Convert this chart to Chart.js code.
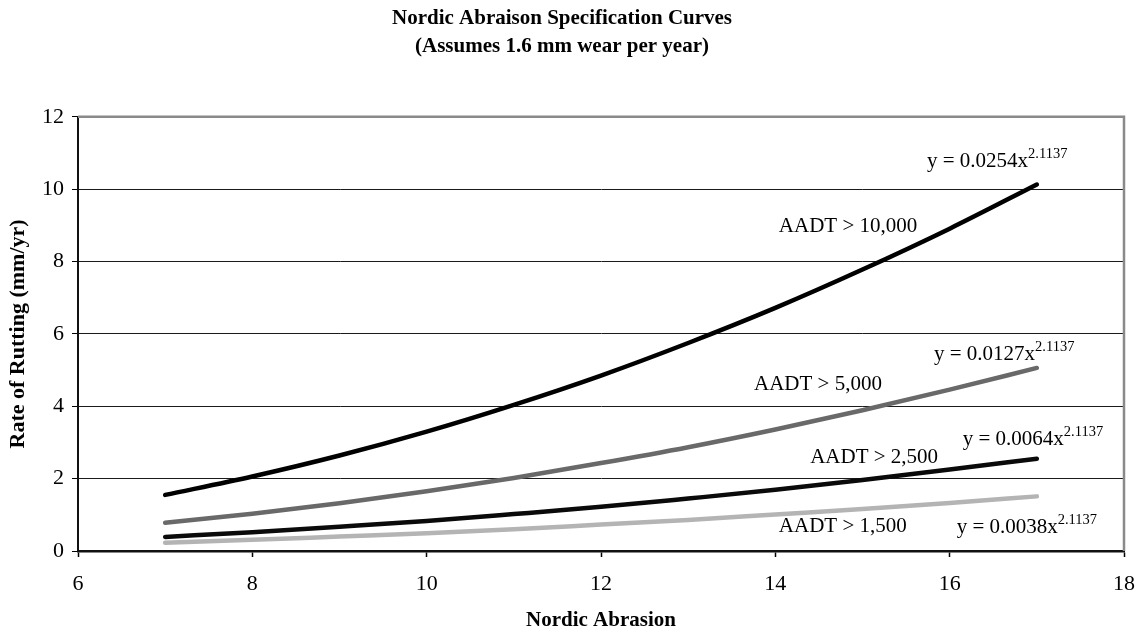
<!DOCTYPE html>
<html>
<head>
<meta charset="utf-8">
<script src="https://cdn.jsdelivr.net/npm/chart.js@4.4.0/dist/chart.umd.min.js"></script>
<style>
html,body{margin:0;padding:0;background:#fff;}
#wrap{width:1143px;height:635px;position:relative;}
</style>
</head>
<body>
<div id="wrap"><canvas id="c" width="1143" height="635"></canvas></div>
<script>
// ---- data ----
const abrasion = [7, 8, 9, 10, 11, 12, 13, 14, 15, 16, 17];
const aadt10000 = [1.55, 2.06, 2.64, 3.30, 4.04, 4.85, 5.75, 6.72, 7.78, 8.91, 10.13];
const aadt5000  = [0.78, 1.03, 1.32, 1.65, 2.02, 2.43, 2.87, 3.36, 3.89, 4.46, 5.06];
const aadt2500  = [0.39, 0.52, 0.67, 0.83, 1.02, 1.22, 1.45, 1.69, 1.96, 2.25, 2.55];
const aadt1500  = [0.23, 0.31, 0.40, 0.49, 0.60, 0.73, 0.86, 1.01, 1.16, 1.33, 1.51];
const seriesNames = ['AADT > 10,000', 'AADT > 5,000', 'AADT > 2,500', 'AADT > 1,500'];
const equations = ['y = 0.0254x', 'y = 0.0127x', 'y = 0.0064x', 'y = 0.0038x'];
const exponent = '2.1137';
const xTicks = [6, 8, 10, 12, 14, 16, 18];
const yTicks = [0, 2, 4, 6, 8, 10, 12];
const titleLines = ['Nordic Abraison Specification Curves', '(Assumes 1.6 mm wear per year)'];
const xTitle = 'Nordic Abrasion';
const yTitle = 'Rate of Rutting (mm/yr)';

// label anchors (data coordinates: left edge, baseline)
const nameAnchors = [[14.04, 8.82], [13.755, 4.45], [14.40, 2.43], [14.04, 0.525]];
const eqAnchors = [[15.74, 10.62], [15.82, 5.28], [16.15, 2.93], [16.08, 0.50]];

const FONT = '"Liberation Serif", "Times New Roman", serif';
const colors = ['#000000', '#696969', '#0a0a0a', '#b4b4b4'];
const allSeries = [aadt10000, aadt5000, aadt2500, aadt1500];

const datasets = allSeries.map((vals, i) => ({
  label: seriesNames[i],
  data: abrasion.map((x, j) => ({x: x, y: vals[j]})),
  borderColor: colors[i],
  backgroundColor: colors[i],
  borderWidth: 4.5,
  borderCapStyle: 'round',
  borderJoinStyle: 'round',
  pointRadius: 0,
  cubicInterpolationMode: 'monotone',
  fill: false
}));

const framePlugin = {
  id: 'frame',
  afterDatasetsDraw(chart) {
    const {ctx, chartArea: a} = chart;
    ctx.save();
    ctx.strokeStyle = '#8a8a8a';
    ctx.lineWidth = 2.5;
    ctx.beginPath();
    ctx.moveTo(a.left, a.top);
    ctx.lineTo(a.right, a.top);
    ctx.lineTo(a.right, a.bottom);
    ctx.stroke();
    ctx.restore();
  }
};

const labelPlugin = {
  id: 'labels',
  afterDatasetsDraw(chart) {
    const {ctx} = chart;
    const xs = chart.scales.x, ys = chart.scales.y;
    ctx.save();
    ctx.fillStyle = '#000';
    ctx.textBaseline = 'alphabetic';
    ctx.textAlign = 'left';
    nameAnchors.forEach((p, i) => {
      ctx.font = '21px ' + FONT;
      ctx.fillText(seriesNames[i], xs.getPixelForValue(p[0]), ys.getPixelForValue(p[1]));
    });
    eqAnchors.forEach((p, i) => {
      const px = xs.getPixelForValue(p[0]), py = ys.getPixelForValue(p[1]);
      ctx.font = '21px ' + FONT;
      ctx.fillText(equations[i], px, py);
      const w = ctx.measureText(equations[i]).width;
      ctx.font = '14.5px ' + FONT;
      ctx.fillText(exponent, px + w, py - 9);
    });
    ctx.restore();
  }
};

new Chart(document.getElementById('c'), {
  type: 'line',
  data: {datasets: datasets},
  plugins: [framePlugin, labelPlugin],
  options: {
    responsive: false,
    animation: false,
    layout: {padding: {left: 0, right: 19, top: 0, bottom: 0}},
    plugins: {
      legend: {display: false},
      tooltip: {enabled: false},
      title: {
        display: true,
        text: titleLines,
        color: '#000',
        font: {family: FONT, size: 21, weight: 'bold', lineHeight: 1.33},
        padding: {top: 5, bottom: 56}
      }
    },
    scales: {
      x: {
        type: 'linear',
        min: 6, max: 18,
        afterFit(s) { s.height = 84; s.paddingLeft = 0; s.paddingRight = 0; },
        afterBuildTicks(s) { s.ticks = xTicks.map(v => ({value: v})); },
        ticks: {color: '#000', font: {family: FONT, size: 22}, padding: 14, maxRotation: 0},
        grid: {drawOnChartArea: false, drawTicks: true, tickLength: 6, tickColor: '#000', tickWidth: 1.5},
        border: {display: true, color: '#111', width: 2.5},
        title: {display: true, text: xTitle, color: '#000', font: {family: FONT, size: 21, weight: 'bold', lineHeight: 1.2}, padding: {top: 0, bottom: 2}}
      },
      y: {
        min: 0, max: 12,
        afterFit(s) { s.width = 78; },
        afterBuildTicks(s) { s.ticks = yTicks.map(v => ({value: v})); },
        ticks: {color: '#000', font: {family: FONT, size: 22}, padding: 8},
        grid: {drawOnChartArea: true, drawTicks: true, tickLength: 6, color: '#1a1a1a', lineWidth: 1, tickColor: '#000'},
        border: {display: true, color: '#111', width: 2},
        title: {display: true, text: yTitle, color: '#000', font: {family: FONT, size: 22, weight: 'bold', lineHeight: 1.2}, padding: {top: 5, bottom: 0}}
      }
    }
  }
});
</script>
</body>
</html>
